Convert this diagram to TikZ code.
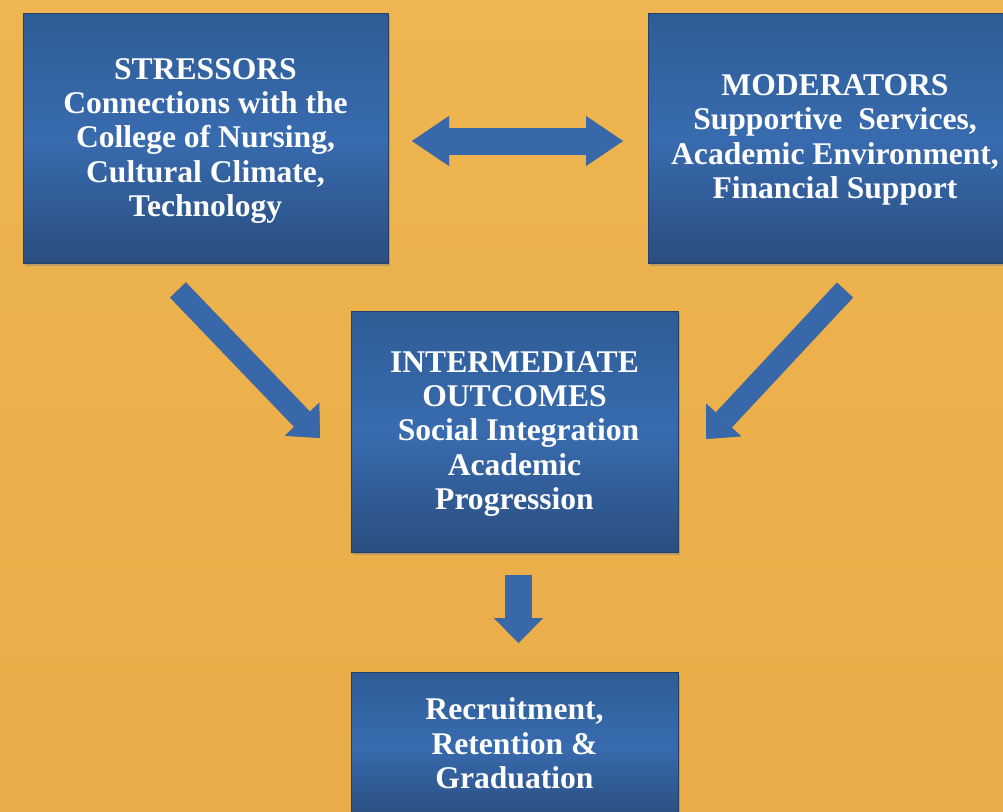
\documentclass[tikz,border=0pt]{standalone}
\usepackage{fontspec}
\setmainfont{Liberation Serif}
\usetikzlibrary{arrows.meta,shadows}
\definecolor{bgtop}{RGB}{238,181,80}
\definecolor{bgbot}{RGB}{233,172,72}
\definecolor{boxtop}{RGB}{46,92,150}
\definecolor{boxmid}{RGB}{56,107,175}
\definecolor{boxbot}{RGB}{42,78,128}
\definecolor{boxedge}{RGB}{36,64,102}
\definecolor{arrowblue}{RGB}{56,104,170}
\tikzset{
  blockbox/.style={rectangle, draw=boxedge, line width=0.8pt,
    top color=boxtop, bottom color=boxbot, middle color=boxmid,
    inner sep=0pt,
    drop shadow={shadow xshift=2pt, shadow yshift=-3pt, opacity=0.45}},
  boxtext/.style={inner sep=0pt, align=center, text=white,
    font=\bfseries\fontsize{31.6pt}{34.4pt}\selectfont},
  blockarrow/.style n args={3}{line width=#1, draw=arrowblue,
    arrows={-{Triangle[length=#2 0 0, width=#3 0 0, line width=0pt 0 0]}}},
  dblarrow/.style n args={3}{line width=#1, draw=arrowblue,
    arrows={{Triangle[length=#2 0 0, width=#3 0 0, line width=0pt 0 0]}-{Triangle[length=#2 0 0, width=#3 0 0, line width=0pt 0 0]}}},
  arrowshadow/.style={draw=black, opacity=0.25, shift={(2,2)}}
}
\begin{document}
\begin{tikzpicture}[x=1pt,y=-1pt]
\useasboundingbox (0,0) rectangle (1003,811);
\fill[top color=bgtop, bottom color=bgbot] (0,0) rectangle (1003,811);
\begin{scope}
\clip (0,0) rectangle (1003,811);
% boxes
\node[blockbox, minimum width=365pt, minimum height=250pt] (stress) at (205.5,138) {};
\node[blockbox, minimum width=374pt, minimum height=250pt] (moder) at (835,138) {};
\node[blockbox, minimum width=327pt, minimum height=241pt] (inter) at (514.5,431.5) {};
\node[blockbox, minimum width=327pt, minimum height=146pt] (recr) at (514.5,745) {};
% texts
\node[boxtext] (stresstxt) at ([yshift=-3pt]stress.center)
  {STRESSORS\\Connections with the\\College of Nursing,\\Cultural Climate,\\Technology};
\node[boxtext] (modertxt) at ([yshift=-2pt]moder.center)
  {MODERATORS\\Supportive\ \ Services,\\Academic Environment,\\Financial Support};
\node[boxtext] (intertxt) at ([yshift=-2.5pt]inter.center)
  {INTERMEDIATE\\OUTCOMES\\\hspace*{0.25em}Social Integration\\Academic\\Progression};
\node[boxtext] (recrtxt) at ([yshift=1.5pt]recr.center)
  {Recruitment,\\Retention \&\\Graduation};
% arrow end points
\coordinate (dl) at (412,141);
\coordinate (dr) at (623,141);
\coordinate (lt) at (178,290);
\coordinate (lh) at (320,438);
\coordinate (rt) at (845,290);
\coordinate (rh) at (706,439);
\coordinate (vt) at (518.5,575);
\coordinate (vh) at (518.5,643);
% shadows
\draw[dblarrow={27pt}{37pt}{50pt}, arrowshadow] (dl) -- (dr);
\draw[blockarrow={22pt}{26pt}{48pt}, arrowshadow] (lt) -- (lh);
\draw[blockarrow={22pt}{26pt}{48pt}, arrowshadow] (rt) -- (rh);
\draw[blockarrow={27pt}{25pt}{49pt}, arrowshadow] (vt) -- (vh);
% arrows
\draw[dblarrow={27pt}{37pt}{50pt}] (dl) -- (dr);
\draw[blockarrow={22pt}{26pt}{48pt}] (lt) -- (lh);
\draw[blockarrow={22pt}{26pt}{48pt}] (rt) -- (rh);
\draw[blockarrow={27pt}{25pt}{49pt}] (vt) -- (vh);
\end{scope}
\end{tikzpicture}
\end{document}
